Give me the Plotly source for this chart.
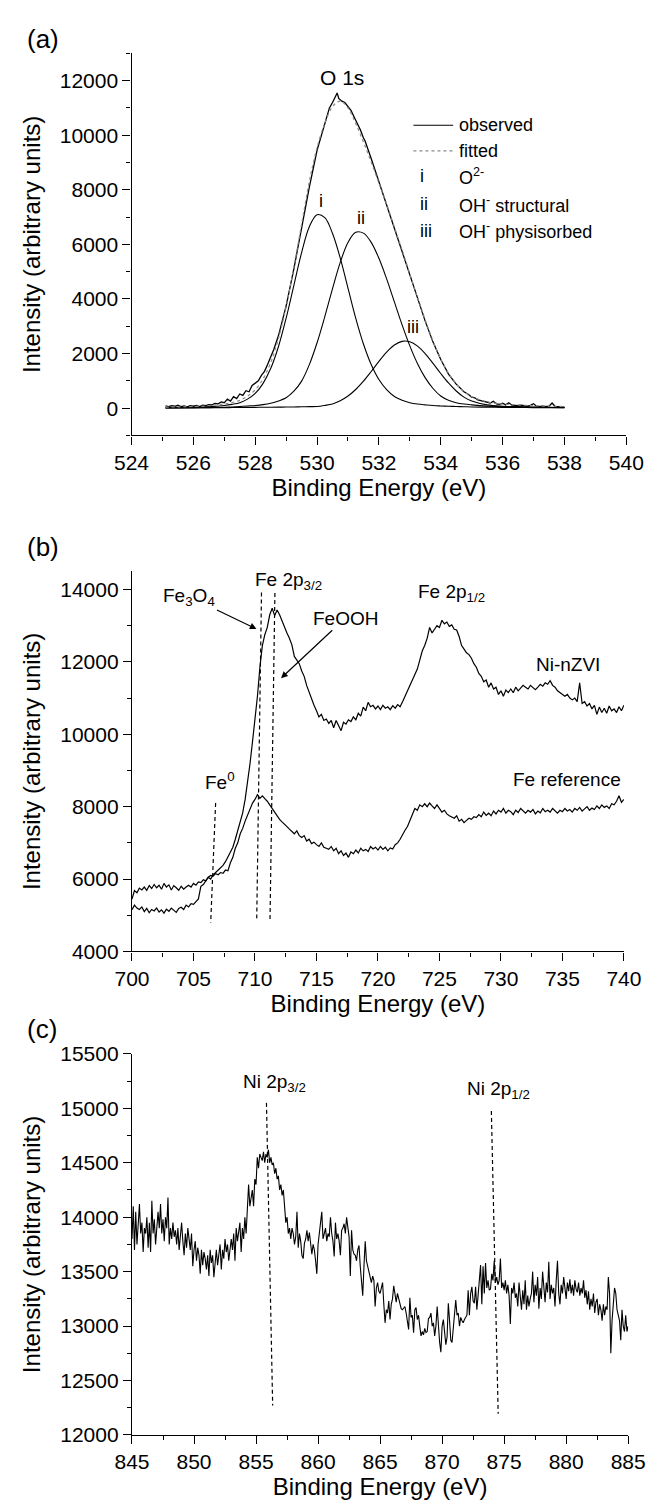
import numpy as np
import plotly.graph_objects as go

FONT = "Liberation Sans, Arial, Helvetica, sans-serif"
W, H = 667, 1510

# ---------------- (a) O 1s ----------------
a_obs_energy = [
    525.1, 525.2, 525.3, 525.4, 525.5, 525.6, 525.7, 525.8, 525.9, 526.0,
    526.1, 526.2, 526.3, 526.4, 526.5, 526.6, 526.7, 526.8, 526.9, 527.0,
    527.1, 527.2, 527.3, 527.4, 527.5, 527.6, 527.7, 527.8, 527.9, 528.0,
    528.1, 528.2, 528.3, 528.4, 528.5, 528.6, 528.75, 529.0, 529.25, 529.5,
    529.75, 530.0, 530.1, 530.25, 530.4, 530.5, 530.6, 530.65, 530.7, 530.8,
    530.9, 531.0, 531.1, 531.25, 531.4, 531.5, 531.55, 531.75, 532.0, 532.25,
    532.5, 532.75, 533.0, 533.25, 533.5, 533.75, 534.0, 534.25, 534.5, 534.75,
    534.9, 535.0, 535.1, 535.2, 535.3, 535.4, 535.5, 535.6, 535.7, 535.8,
    535.9, 536.0, 536.1, 536.2, 536.3, 536.4, 536.5, 536.6, 536.7, 536.8,
    536.9, 537.0, 537.1, 537.2, 537.3, 537.4, 537.5, 537.6, 537.7, 537.8,
    537.9, 538.0]
a_obs_intensity = [
    80, 60, 90, 70, 110, 60, 80, 50, 90, 70,
    100, 60, 110, 90, 130, 120, 170, 160, 230, 200,
    330, 260, 420, 350, 520, 470, 640, 600, 830, 900,
    1000, 1200, 1350, 1600, 1850, 2150, 2650, 3750, 5100, 6600,
    8100, 9450, 9850, 10500, 11000, 11200, 11450, 11550, 11350, 11250,
    11200, 11050, 10900, 10550, 10200, 9900, 9800, 9150, 8300, 7450,
    6600, 5750, 4850, 4000, 3180, 2420, 1780, 1250, 880, 600,
    500, 400, 380, 300, 270, 240, 210, 190, 250, 160,
    140, 180, 120, 200, 110, 100, 90, 110, 80, 70,
    100, 160, 70, 60, 80, 60, 70, 190, 60, 50,
    40, 40]

a_fit_energy = [
    525.1, 525.5, 526.0, 526.5, 527.0,
    527.25, 527.5, 527.75, 528.0, 528.25, 528.5, 528.75, 529.0, 529.25, 529.5,
    529.75, 530.0, 530.25, 530.5, 530.75, 531.0, 531.25, 531.5, 531.75, 532.0,
    532.25, 532.5, 532.75, 533.0, 533.25, 533.5, 533.75, 534.0, 534.25, 534.5,
    534.75, 535.0,
    535.5, 536.0, 536.5, 537.0, 537.5, 538.0]
a_fitted = [
    35, 48, 61, 91, 155,
    207, 285, 438, 670, 1063, 1666, 2548, 3720, 5165, 6741,
    8299, 9545, 10433, 11050, 11250, 11000, 10430, 9752, 9019, 8254,
    7470, 6636, 5791, 4916, 4050, 3220, 2456, 1796, 1281, 889,
    606, 425,
    232, 150, 120, 90, 74, 60]
a_comp_i = [
    20, 28, 35, 55, 100,
    140, 200, 330, 540, 900, 1450, 2250, 3300, 4500, 5700,
    6650, 7090, 6980, 6400, 5500, 4400, 3300, 2350, 1600, 1050,
    680, 430, 290, 200, 150, 120, 95, 80, 68, 60,
    52, 45,
    37, 30, 25, 20, 17, 15]
a_comp_ii = [
    5, 8, 12, 20, 35,
    45, 60, 80, 100, 130, 180, 260, 380, 620, 991,
    1594, 2395, 3353, 4380, 5340, 6073, 6446, 6413, 6076, 5490,
    4735, 3893, 3053, 2283, 1629, 1109, 720, 446, 290, 200,
    150, 120,
    75, 50, 40, 30, 25, 20]
a_comp_iii = [
    10, 12, 14, 16, 20,
    22, 25, 28, 30, 33, 36, 38, 40, 45, 50,
    55, 60, 100, 155, 271, 444, 684, 989, 1343, 1714,
    2055, 2313, 2448, 2433, 2271, 1991, 1641, 1270, 923, 629,
    404, 260,
    120, 70, 55, 40, 32, 25]

# ---------------- (b) Fe 2p ----------------
b_start, b_step = 700.0, 0.2
b_ni_nzvi = [
    5450, 5680, 5620, 5750, 5700, 5780, 5690, 5820, 5740, 5850,
    5760, 5830, 5720, 5880, 5780, 5840, 5700, 5820, 5760, 5690,
    5800, 5720, 5780, 5830, 5780, 5880, 5830, 5920, 5900, 5980,
    5950, 6050, 6000, 6120, 6180, 6250, 6300, 6380, 6480, 6600,
    6720, 6880, 7100, 7330, 7560, 7830, 8200, 8650, 9200, 9800,
    10400, 11050, 11850, 12450, 12750, 12950, 13300, 13480, 13280, 13430,
    13300, 13120, 12950, 12800, 12650, 12470, 12150, 12050, 11950, 11750,
    11600, 11350, 11150, 10950, 10800, 10650, 10480, 10550, 10380, 10420,
    10300, 10380, 10180, 10380, 10250, 10100, 10330, 10280, 10400, 10350,
    10480, 10400, 10580, 10500, 10750, 10650, 10880, 10760, 10800, 10700,
    10780, 10680, 10800, 10720, 10760, 10680, 10790, 10720, 10820, 10760,
    10900, 11050, 11150, 11300, 11480, 11650, 11800, 12050, 12300, 12450,
    12650, 12950, 12800, 12900, 13000, 12950, 13150, 13050, 13100, 12980,
    13020, 12900, 12880, 12700, 12450, 12350, 12250, 12200, 12100, 11950,
    11850, 11680, 11600, 11450, 11500, 11300, 11420, 11250, 11300, 11100,
    11200, 11050, 11220, 11150, 11250, 11150, 11300, 11200, 11280, 11350,
    11300, 11250, 11350, 11300, 11230, 11300, 11380, 11330, 11420, 11380,
    11480, 11350, 11300, 11200, 11150, 11100, 11050, 11100, 11000, 10950,
    11000, 10900, 11420, 10850, 10900, 10780, 10850, 10700, 10800, 10550,
    10750, 10600, 10720, 10580, 10780, 10650, 10700, 10600, 10760, 10650,
    10800]
b_fe_reference = [
    5150, 5280, 5200, 5160, 5230, 5100, 5190, 5070, 5160, 5120,
    5200, 5090, 5150, 5060, 5170, 5110, 5200, 5130, 5080, 5190,
    5220, 5160, 5280, 5230, 5320, 5300, 5380, 5450, 5800, 5850,
    5950, 6050, 6100, 6080, 6150, 6120, 6180, 6160, 6250, 6230,
    6450, 6600, 6850, 7000, 7250, 7400, 7600, 7780, 7950, 8100,
    8200, 8330, 8230, 8300, 8220, 8150, 8050, 7950, 7830, 7750,
    7650, 7580, 7500, 7450, 7380, 7300, 7250, 7330, 7200, 7150,
    7200, 7050, 7100, 6980, 7020, 6950, 6900, 7000, 6880, 6850,
    6820, 6900, 6780, 6850, 6700, 6780, 6650, 6720, 6600, 6750,
    6700, 6800, 6720, 6850, 6780, 6820, 6760, 6900, 6830, 6880,
    6800, 6900, 6820, 6880, 6780, 6860, 6830, 6950, 7000, 7100,
    7250, 7350, 7450, 7600, 7800, 7950, 7900, 8050, 8000, 8080,
    8000, 8100, 8020, 7950, 8050, 7950, 7850, 7900, 7800, 7750,
    7720, 7680, 7750, 7600, 7650, 7560, 7620, 7680, 7650, 7720,
    7700, 7780, 7720, 7850, 7760, 7820, 7750, 7880, 7800, 7900,
    7850, 7950, 7820, 7900, 7860, 7780, 7900, 7840, 7950, 7880,
    7820, 7900, 7850, 7920, 7800, 7880, 7830, 7950, 7860, 7900,
    7850, 7950, 7880, 7820, 7900, 7860, 7950, 7880, 7920, 7850,
    7950, 7900, 7980, 7880, 7940, 8000, 7900, 7960, 7920, 8020,
    7950, 8050, 7980, 8020, 7950, 8080, 8050, 8150, 8300, 8120,
    8200]
b_guide_energy = [[706.8, 706.4], [710.53, 710.14], [711.62, 711.22]]
b_guide_intensity = [[8100, 4800], [13918, 4845], [13900, 4850]]

# ---------------- (c) Ni 2p ----------------
c_start, c_step = 845.0, 0.1
c_ni = [
    13800, 14100, 13700, 14050, 13750, 13900, 14120, 13850, 13950, 13680,
    13900, 13850, 14000, 13720, 13950, 13680, 14150, 13850, 13980, 13750,
    13950, 14050, 13900, 14120, 13850, 13980, 13780, 14000, 13900, 14180,
    13750, 13900, 13800, 13950, 13820, 13880, 13750, 13900, 13700, 13850,
    13950, 13780, 13650, 13850, 13720, 13900, 13780, 13700, 13850, 13550,
    13700, 13780, 13600, 13720, 13650, 13480, 13700, 13560, 13680, 13620,
    13520, 13650, 13460, 13700, 13580, 13650, 13450, 13600, 13700, 13560,
    13650, 13750, 13520, 13700, 13620, 13800, 13680, 13750, 13600, 13720,
    13800, 13700, 13850, 13600, 13900, 13780, 13850, 13950, 13680, 13900,
    13800, 14000, 13850, 14050, 14300, 14100, 14200, 14250, 14100, 14350,
    14300, 14550, 14450, 14580, 14550, 14520, 14600, 14500, 14580, 14550,
    14620, 14500, 14550, 14480, 14500, 14400, 14450, 14350, 14380, 14250,
    14300, 14200, 14250, 14050, 13950, 14000, 13850, 13900, 13800, 13900,
    13850, 13750, 13820, 14050, 13720, 13850, 13780, 13650, 13620, 13760,
    13800, 13880, 13780, 13860, 13720, 13660, 13750, 13700, 13600, 13480,
    13750, 13880, 13950, 14050, 13800, 13850, 13900, 13780, 13850, 13820,
    14000, 13850, 13780, 13640, 13950, 13800, 13850, 13780, 13650, 13880,
    13900, 13940, 13850, 14000, 13900, 13820, 13460, 13880, 13700, 13660,
    13650, 13600, 13700, 13740, 13550, 13400, 13280, 13550, 13780, 13600,
    13550, 13480, 13420, 13400, 13460, 13420, 13180, 13350, 13400, 13320,
    13300, 13350, 13400, 13200, 13030, 13150, 13120, 13230, 13060, 13200,
    13250, 13370, 13280, 13220, 13300, 13250, 13200, 13160, 13150, 13170,
    13180, 13120, 13050, 12970, 13260, 13080, 13100, 12940, 13150, 13170,
    13060, 13100, 13000, 12910, 12950, 12920, 12980, 12940, 12950, 13070,
    13080, 13120, 13000, 13030, 12910, 13000, 13180, 12980, 12850, 12760,
    13000, 13060, 12940, 12830, 12900, 13210, 13050, 12870, 12850, 13000,
    13150, 13240, 13100, 13120, 13000, 13080, 13050, 13030, 13060, 13080,
    13100, 13330, 13100, 13300, 13360, 13230, 13210, 13360, 13150, 13280,
    13390, 13560, 13200, 13550, 13300, 13580, 13350, 13420, 13330, 13340,
    13480, 13420, 13600, 13400, 13450, 13380, 13420, 13620, 13350, 13400,
    13330, 13420, 13300, 13380, 13280, 13020, 13350, 13300, 13400, 13260,
    13300, 13180, 13400, 13250, 13150, 13330, 13200, 13420, 13150, 13280,
    13180, 13250, 13300, 13500, 13220, 13380, 13280, 13450, 13160, 13350,
    13250, 13500, 13300, 13220, 13400, 13310, 13590, 13250, 13380, 13300,
    13350, 13180, 13420, 13600, 13300, 13200, 13380, 13300, 13450, 13330,
    13250, 13400, 13320, 13430, 13300, 13380, 13280, 13420, 13340, 13310,
    13400, 13280, 13350, 13300, 13420, 13260, 13330, 13200, 13320, 13150,
    13250, 13180, 13300, 13120, 13220, 13250, 13100, 13200, 13150, 13050,
    13200, 13100, 13180, 13150, 13450, 13300, 12750, 13050, 13200, 13350,
    13300, 13150, 13100, 13050, 12870, 13150, 13000, 12950, 13100, 12950,
    13000]
c_guide_energy = [[855.84, 856.34], [873.97, 874.52]]
c_guide_intensity = [[15050, 12270], [14976, 12196]]

b_energy = np.round(b_start + b_step * np.arange(len(b_ni_nzvi)), 2)
b_energy_ref = np.round(b_start + b_step * np.arange(len(b_fe_reference)), 2)
c_energy = np.round(c_start + c_step * np.arange(len(c_ni)), 2)

fig = go.Figure()


def add_line(x, y, xa, ya, color="black", width=1.2, dash=None, shape="linear"):
    fig.add_trace(go.Scatter(
        x=x, y=y, xaxis=xa, yaxis=ya, mode="lines",
        line=dict(color=color, width=width, dash=dash, shape=shape),
        showlegend=False, hoverinfo="skip"))


# panel a
for comp in (a_comp_i, a_comp_ii, a_comp_iii):
    add_line(a_fit_energy, comp, "x", "y", width=1.1, shape="spline")
add_line(a_obs_energy, a_obs_intensity, "x", "y", width=1.3)
add_line(a_fit_energy, a_fitted, "x", "y", color="#8a8a8a", width=1.2, dash="dot", shape="spline")

# panel b
add_line(b_energy, b_ni_nzvi, "x2", "y2", width=1.2)
add_line(b_energy_ref, b_fe_reference, "x2", "y2", width=1.2)
for gx, gy in zip(b_guide_energy, b_guide_intensity):
    add_line(gx, gy, "x2", "y2", width=1.2, dash="4px,3px")

# panel c
add_line(c_energy, c_ni, "x3", "y3", width=1.1)
for gx, gy in zip(c_guide_energy, c_guide_intensity):
    add_line(gx, gy, "x3", "y3", width=1.2, dash="4px,3px")

TICKFONT = dict(family=FONT, size=21, color="black")
TITLEFONT = dict(family=FONT, size=24, color="black")


def xaxis(domain, rng, dtick, minor, anchor):
    return dict(domain=domain, range=rng, dtick=dtick, tick0=rng[0], anchor=anchor,
                showline=True, linecolor="black", linewidth=1.3, mirror=False,
                ticks="outside", ticklen=8, tickwidth=1.3, tickcolor="black",
                showgrid=False, zeroline=False, tickformat="d", tickfont=TICKFONT,
                minor=dict(dtick=minor, ticks="outside", ticklen=4, tickwidth=1.3,
                           tickcolor="black", showgrid=False),
                title=dict(text="Binding Energy (eV)", standoff=3, font=TITLEFONT))


def yaxis(domain, rng, tick0, dtick, minor, anchor):
    return dict(domain=domain, range=rng, dtick=dtick, tick0=tick0, anchor=anchor,
                showline=True, linecolor="black", linewidth=1.3, mirror=False,
                ticks="outside", ticklen=8, tickwidth=1.3, tickcolor="black",
                showgrid=False, zeroline=False, tickformat="d", tickfont=TICKFONT,
                minor=dict(dtick=minor, tick0=tick0, ticks="outside", ticklen=4, tickwidth=1.3,
                           tickcolor="black", showgrid=False),
                title=dict(text="Intensity (arbitrary units)", standoff=12, font=TITLEFONT))


fig.update_layout(
    width=W, height=H, margin=dict(l=0, r=0, t=0, b=0),
    paper_bgcolor="white", plot_bgcolor="white",
    font=dict(family=FONT, color="black"),
    showlegend=False,
    xaxis=xaxis([120 / W, 643 / W], [524, 540], 2, 1, "y"),
    yaxis=yaxis([1 - 430 / H, 1 - 42 / H], [-1000, 13000], 0, 2000, 1000, "x"),
    xaxis2=xaxis([120.5 / W, 640.5 / W], [700, 740], 5, 2.5, "y2"),
    yaxis2=yaxis([1 - 954 / H, 1 - 568 / H], [4000, 14500], 4000, 2000, 1000, "x2"),
    xaxis3=xaxis([120.5 / W, 645 / W], [845, 885], 5, 2.5, "y3"),
    yaxis3=yaxis([1 - 1445 / H, 1 - 1058 / H], [12000, 15500], 12000, 500, 250, "x3"),
)

ann = []


def text(t, x, y, xref, yref, size=19, xanchor="center", yanchor="middle", **kw):
    d = dict(text=t, x=x, y=y, xref=xref, yref=yref, showarrow=False,
             xanchor=xanchor, yanchor=yanchor,
             font=dict(family=FONT, size=size, color="black"))
    d.update(kw)
    ann.append(d)


# panel letters
text("(a)", 7 / W, 1 - 27 / H, "paper", "paper", size=26, xanchor="left")
text("(b)", 7 / W, 1 - 543 / H, "paper", "paper", size=26, xanchor="left")
text("(c)", 7 / W, 1 - 1033 / H, "paper", "paper", size=26, xanchor="left")

# panel a labels
text("O 1s", 530.82, 12108, "x", "y", size=21)
text("i", 530.12, 7604, "x", "y", size=18)
text("ii", 531.41, 6955, "x", "y", size=18)
text("iii", 533.09, 2991, "x", "y", size=18)

# panel a legend
leg_rows = [115, 141, 167, 195, 222]
fig.add_shape(type="line", xref="paper", yref="paper", x0=418 / W, x1=460 / W,
              y0=1 - leg_rows[0] / H, y1=1 - leg_rows[0] / H, line=dict(color="black", width=1.2))
fig.add_shape(type="line", xref="paper", yref="paper", x0=418 / W, x1=460 / W,
              y0=1 - leg_rows[1] / H, y1=1 - leg_rows[1] / H,
              line=dict(color="#8a8a8a", width=1.2, dash="dot"))
legend_labels = ["observed", "fitted", "O<sup>2-</sup>", "OH<sup>-</sup> structural",
                 "OH<sup>-</sup> physisorbed"]
legend_keys = ["", "", "i", "ii", "iii"]
for row, lab, key in zip(leg_rows, legend_labels, legend_keys):
    text(lab, 464 / W, 1 - row / H, "paper", "paper", size=18, xanchor="left")
    if key:
        text(key, 423 / W, 1 - row / H, "paper", "paper", size=18, xanchor="left")

# panel b labels
text("Fe 2p<sub>3/2</sub>", 709.81, 14245, "x2", "y2", size=19, xanchor="left")
text("Fe 2p<sub>1/2</sub>", 723.12, 13891, "x2", "y2", size=19, xanchor="left")
text("Ni-nZVI", 735.42, 11929, "x2", "y2", size=19)
text("Fe reference", 735.35, 8741, "x2", "y2", size=19)
text("Fe<sup>0</sup>", 707.12, 8714, "x2", "y2", size=19)
# labels with arrows pointing to the shoulders
ann.append(dict(text="Fe<sub>3</sub>O<sub>4</sub>", x=710.12, y=12910, xref="x2", yref="y2",
                ax=-67, ay=-32, showarrow=True, arrowhead=2, arrowsize=1.1,
                arrowwidth=1.2, arrowcolor="black", standoff=0,
                font=dict(family=FONT, size=19, color="black")))
ann.append(dict(text="FeOOH", x=712.12, y=11548, xref="x2", yref="y2",
                ax=64, ay=-60, showarrow=True, arrowhead=2, arrowsize=1.1,
                arrowwidth=1.2, arrowcolor="black", standoff=0,
                font=dict(family=FONT, size=19, color="black")))

# panel c labels
text("Ni 2p<sub>3/2</sub>", 853.82, 15229, "x3", "y3", size=19, xanchor="left")
text("Ni 2p<sub>1/2</sub>", 871.83, 15166, "x3", "y3", size=19, xanchor="left")

fig.update_layout(annotations=ann)
fig.write_html("out.html")
